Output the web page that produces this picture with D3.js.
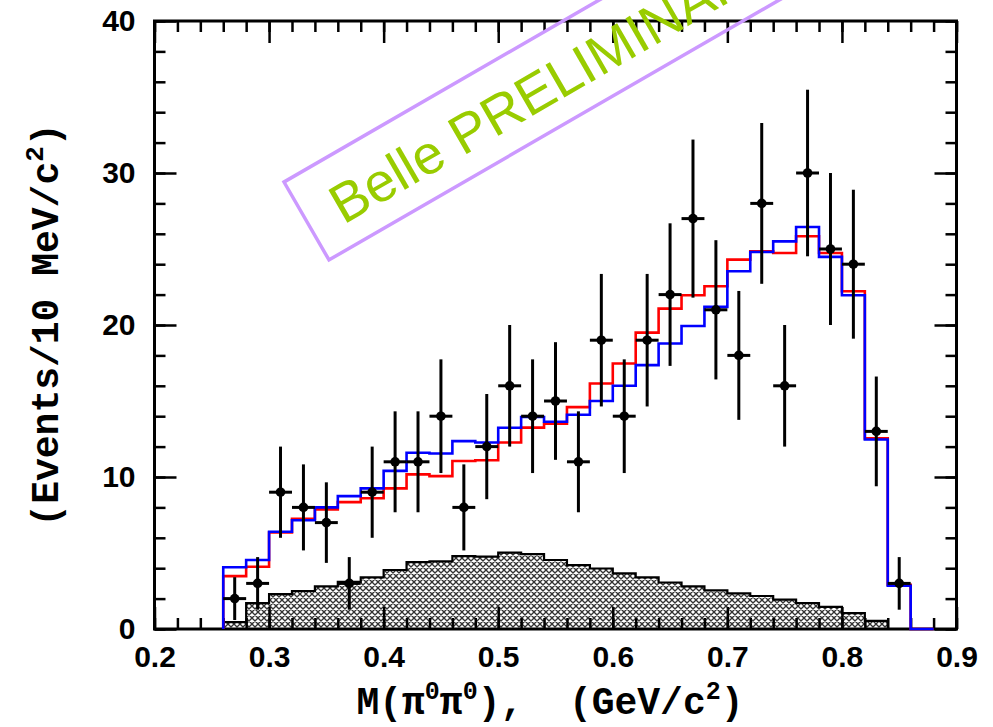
<!DOCTYPE html>
<html>
<head>
<meta charset="utf-8">
<script src="https://cdn.jsdelivr.net/npm/d3@7"></script>
<style>
  body { margin: 0; background: #fff; }
  .tick text { font-family: "Liberation Sans", Arial, sans-serif; font-weight: bold; font-size: 30px; fill: #000; }
  .tick line { stroke: #000; stroke-width: 2.5; }
  .axisLabel { font-family: "Liberation Mono", "DejaVu Sans Mono", monospace; font-weight: bold; font-size: 38px; fill: #000; }
</style>
</head>
<body>
<script>
// M(pi0 pi0) distribution
var binLow = [0.26, 0.28, 0.30, 0.32, 0.34, 0.36, 0.38, 0.40, 0.42, 0.44, 0.46, 0.48,
  0.50, 0.52, 0.54, 0.56, 0.58, 0.60, 0.62, 0.64, 0.66, 0.68, 0.70, 0.72, 0.74, 0.76,
  0.78, 0.80, 0.82, 0.84, 0.86];
var binWidth = 0.02;

// fit curves (step histograms)
var blueFit = [4.06, 4.54, 6.4, 7.15, 8.0, 8.74, 9.25, 10.4, 11.6, 11.55, 12.36, 12.27,
  13.24, 13.95, 13.63, 14.1, 15.0, 16.0, 17.36, 18.78, 19.93, 21.19, 23.54, 24.8, 25.5,
  26.45, 24.48, 21.96, 12.47, 2.85, 0];
var redFit = [3.48, 4.1, 6.35, 7.25, 7.87, 8.35, 8.6, 9.25, 10.17, 10.06, 11.05, 11.1,
  12.27, 13.25, 13.5, 14.6, 16.15, 17.47, 19.5, 21.08, 21.96, 22.55, 24.3, 24.85, 24.74,
  25.84, 24.74, 22.22, 12.54, 2.91, 0];

// background (hatched), bins 0.26 .. 0.82
var background = [0.45, 1.7, 2.3, 2.5, 2.8, 3.1, 3.4, 3.88, 4.4, 4.45, 4.8, 4.76, 5.03,
  4.92, 4.54, 4.2, 3.98, 3.66, 3.4, 3.06, 2.8, 2.54, 2.35, 2.17, 1.93, 1.71, 1.45, 1.05, 0.53];

// data points
var dataX = [0.27, 0.29, 0.31, 0.33, 0.35, 0.37, 0.39, 0.41, 0.43, 0.45, 0.47, 0.49, 0.51,
  0.53, 0.55, 0.57, 0.59, 0.61, 0.63, 0.65, 0.67, 0.69, 0.71, 0.73, 0.75, 0.77, 0.79, 0.81,
  0.83, 0.85];
var dataY = [2, 3, 9, 8, 7, 3, 9, 11, 11, 14, 8, 12, 16, 14, 15, 11, 19, 14, 19, 22, 27,
  21, 18, 28, 16, 30, 25, 24, 13, 3];
var dataErr = [1.41, 1.73, 3.0, 2.83, 2.65, 1.73, 3.0, 3.32, 3.32, 3.74, 2.83, 3.46, 4.0,
  3.74, 3.87, 3.32, 4.36, 3.74, 4.36, 4.69, 5.2, 4.58, 4.24, 5.29, 4.0, 5.48, 5.0, 4.9,
  3.61, 1.73];

var xMajor = [0.2, 0.3, 0.4, 0.5, 0.6, 0.7, 0.8, 0.9];
var yMajor = [0, 10, 20, 30, 40];

var svgWidth = 993;
var svgHeight = 727;

var svg = d3.select("body")
  .append("svg")
  .attr("width", svgWidth)
  .attr("height", svgHeight);

var x = d3.scaleLinear().domain([0.2, 0.9]).range([154.5, 956.5]);
var y = d3.scaleLinear().domain([0, 40]).range([629, 21]);

// hatch pattern for the background
var defs = svg.append("defs");
var pat = defs.append("pattern")
  .attr("id", "hatch")
  .attr("patternUnits", "userSpaceOnUse")
  .attr("width", 6)
  .attr("height", 6);
pat.append("rect").attr("width", 6).attr("height", 6).attr("fill", "#fff");
pat.append("path")
  .attr("d", "M0,0L6,6M6,0L0,6M-1,5L1,7M5,-1L7,1M-1,1L1,-1M5,7L7,5")
  .attr("stroke", "#333")
  .attr("stroke-width", 1.35);

// helper: step points for a histogram
function stepPoints(vals) {
  var pts = [[binLow[0], 0]];
  vals.forEach(function(v, i) { pts.push([binLow[i], v]); });
  var last = vals.length - 1;
  pts.push([binLow[last] + binWidth, vals[last]]);
  pts.push([binLow[last] + binWidth, 0]);
  return pts;
}

var stepLine = d3.line()
  .x(function(d) { return x(d[0]); })
  .y(function(d) { return y(d[1]); })
  .curve(d3.curveStepAfter);

// background area
var bgPts = stepPoints(background);
var bgArea = d3.area()
  .x(function(d) { return x(d[0]); })
  .y0(y(0))
  .y1(function(d) { return y(d[1]); })
  .curve(d3.curveStepAfter);

svg.append("path")
  .attr("d", bgArea(bgPts))
  .attr("fill", "url(#hatch)");
svg.append("path")
  .attr("d", stepLine(bgPts))
  .attr("fill", "none")
  .attr("stroke", "#000")
  .attr("stroke-width", 2.2);

// axes: ticks inward on all four sides
var xMinor = d3.range(0.2, 0.901, 0.02);
var yMinor = d3.range(0, 40.1, 2);

function drawAxis(axis, tr) {
  var g = svg.append("g").attr("transform", tr).call(axis);
  g.select(".domain").remove();
  return g;
}

drawAxis(d3.axisBottom(x).tickValues(xMinor).tickSize(-11).tickFormat(""), "translate(0,629)");
drawAxis(d3.axisBottom(x).tickValues(xMajor).tickSize(-22).tickPadding(17).tickFormat(d3.format(".1f")), "translate(0,629)");
drawAxis(d3.axisTop(x).tickValues(xMinor).tickSize(-11).tickFormat(""), "translate(0,21)");
drawAxis(d3.axisTop(x).tickValues(xMajor).tickSize(-22).tickFormat(""), "translate(0,21)");
drawAxis(d3.axisLeft(y).tickValues(yMinor).tickSize(-11).tickFormat(""), "translate(154.5,0)");
drawAxis(d3.axisLeft(y).tickValues(yMajor).tickSize(-22).tickPadding(19).tickFormat(d3.format("d")), "translate(154.5,0)");
drawAxis(d3.axisRight(y).tickValues(yMinor).tickSize(-11).tickFormat(""), "translate(956.5,0)");
drawAxis(d3.axisRight(y).tickValues(yMajor).tickSize(-22).tickFormat(""), "translate(956.5,0)");

// frame
svg.append("rect")
  .attr("x", x(0.2))
  .attr("y", y(40))
  .attr("width", x(0.9) - x(0.2))
  .attr("height", y(0) - y(40))
  .attr("fill", "none")
  .attr("stroke", "#000")
  .attr("stroke-width", 3);

// fit histograms
svg.append("path")
  .attr("d", stepLine(stepPoints(redFit)))
  .attr("fill", "none")
  .attr("stroke", "#ff0000")
  .attr("stroke-width", 2.6);
svg.append("path")
  .attr("d", stepLine(stepPoints(blueFit)))
  .attr("fill", "none")
  .attr("stroke", "#0000ff")
  .attr("stroke-width", 2.6);

// data points with error bars
var pts = dataX.map(function(d, i) { return { x: d, y: dataY[i], e: dataErr[i] }; });
var ptG = svg.append("g").attr("class", "points");
ptG.selectAll(".ev")
  .data(pts)
  .enter()
  .append("line")
  .attr("x1", function(d) { return x(d.x); })
  .attr("x2", function(d) { return x(d.x); })
  .attr("y1", function(d) { return y(d.y - d.e); })
  .attr("y2", function(d) { return y(d.y + d.e); })
  .attr("stroke", "#000")
  .attr("stroke-width", 3);
ptG.selectAll(".eh")
  .data(pts)
  .enter()
  .append("line")
  .attr("x1", function(d) { return x(d.x - binWidth / 2); })
  .attr("x2", function(d) { return x(d.x + binWidth / 2); })
  .attr("y1", function(d) { return y(d.y); })
  .attr("y2", function(d) { return y(d.y); })
  .attr("stroke", "#000")
  .attr("stroke-width", 3);
ptG.selectAll("circle")
  .data(pts)
  .enter()
  .append("circle")
  .attr("cx", function(d) { return x(d.x); })
  .attr("cy", function(d) { return y(d.y); })
  .attr("r", 4.8)
  .attr("fill", "#000");

// axis titles
var xt = svg.append("text")
  .attr("class", "axisLabel")
  .attr("x", 550)
  .attr("y", 714)
  .attr("text-anchor", "middle")
  .style("white-space", "pre");
xt.append("tspan").text("M(\u03c0");
xt.append("tspan").attr("font-size", "25px").attr("dy", -15).text("0");
xt.append("tspan").attr("dy", 15).text("\u03c0");
xt.append("tspan").attr("font-size", "25px").attr("dy", -15).text("0");
xt.append("tspan").attr("dy", 15).text("),  (GeV/c");
xt.append("tspan").attr("font-size", "25px").attr("dy", -15).text("2");
xt.append("tspan").attr("dy", 15).text(")");

var yt = svg.append("text")
  .attr("class", "axisLabel")
  .attr("font-size", "39px")
  .attr("transform", "translate(58,325) rotate(-90)")
  .attr("text-anchor", "middle");
yt.append("tspan").text("(Events/10 MeV/c");
yt.append("tspan").attr("font-size", "26px").attr("dy", -15).text("2");
yt.append("tspan").attr("dy", 15).text(")");

// preliminary stamp
var stamp = svg.append("g")
  .attr("transform", "translate(284,182) rotate(-30)");
stamp.append("rect")
  .attr("x", 0)
  .attr("y", 0)
  .attr("width", 580)
  .attr("height", 90)
  .attr("fill", "none")
  .attr("stroke", "#cc99ff")
  .attr("stroke-width", 3.5);
stamp.append("text")
  .attr("x", 30)
  .attr("y", 67)
  .attr("font-family", "Liberation Sans, Arial, sans-serif")
  .attr("font-size", "55px")
  .attr("fill", "#99cc00")
  .text("Belle PRELIMINARY");
</script>
</body>
</html>
